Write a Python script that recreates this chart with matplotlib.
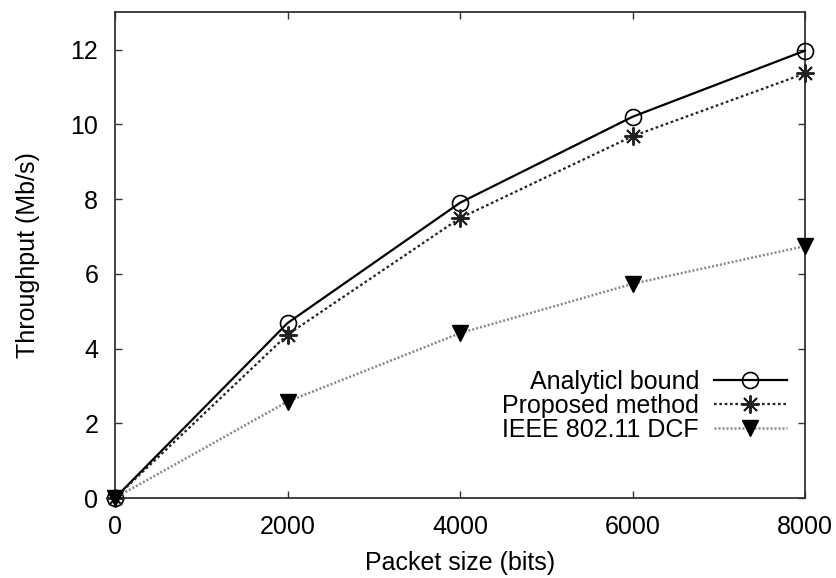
import matplotlib
matplotlib.use("Agg")
import matplotlib.pyplot as plt

packet_size = [0, 2000, 4000, 6000, 8000]
analytic = [0, 4.68, 7.9, 10.2, 11.97]
proposed = [0, 4.37, 7.49, 9.68, 11.36]
dcf = [0, 2.58, 4.41, 5.73, 6.74]

plt.rcParams['font.family'] = ['Liberation Sans', 'DejaVu Sans']
plt.rcParams['font.size'] = 18

fig = plt.figure(figsize=(8.37, 5.78), dpi=100)
ax = fig.add_axes([0.1374, 0.1384, 0.8244, 0.8406])

ax.plot(packet_size, analytic, color='black', linestyle='-', linewidth=1.6,
        marker='o', markersize=11.5, markerfacecolor='none', markeredgewidth=1.2,
        label='Analyticl bound', clip_on=False, zorder=3)
ax.plot(packet_size, proposed, color='#222222', linestyle=(0, (1.2, 1.2)), linewidth=1.6,
        marker=(8, 2, 0), markersize=13, markeredgewidth=1.4,
        label='Proposed method', clip_on=False, zorder=3)
ax.plot(packet_size, dcf, color='#888888', linestyle=(0, (0.8, 0.8)), linewidth=1.8,
        marker='v', markersize=12, markerfacecolor='black', markeredgecolor='black',
        label='IEEE 802.11 DCF', clip_on=False, zorder=3)

ax.set_xlim(0, 8000)
ax.set_ylim(0, 13)
ax.set_xticks([0, 2000, 4000, 6000, 8000])
ax.set_yticks([0, 2, 4, 6, 8, 10, 12])
ax.tick_params(direction='in', top=True, right=True, length=5, width=1,
               color='#333333', pad=12)
for s in ax.spines.values():
    s.set_linewidth(1.3)
    s.set_color('#333333')
ax.set_xlabel('Packet size (bits)', labelpad=9)
ax.set_ylabel('Throughput (Mb/s)', labelpad=22)

ax.legend(loc='lower right', bbox_to_anchor=(0.995, 0.085), frameon=False,
          markerfirst=False, handlelength=2.9, handletextpad=0.6,
          labelspacing=0.0, borderaxespad=0.2, fontsize=18)

fig.savefig('out.png', dpi=100)
